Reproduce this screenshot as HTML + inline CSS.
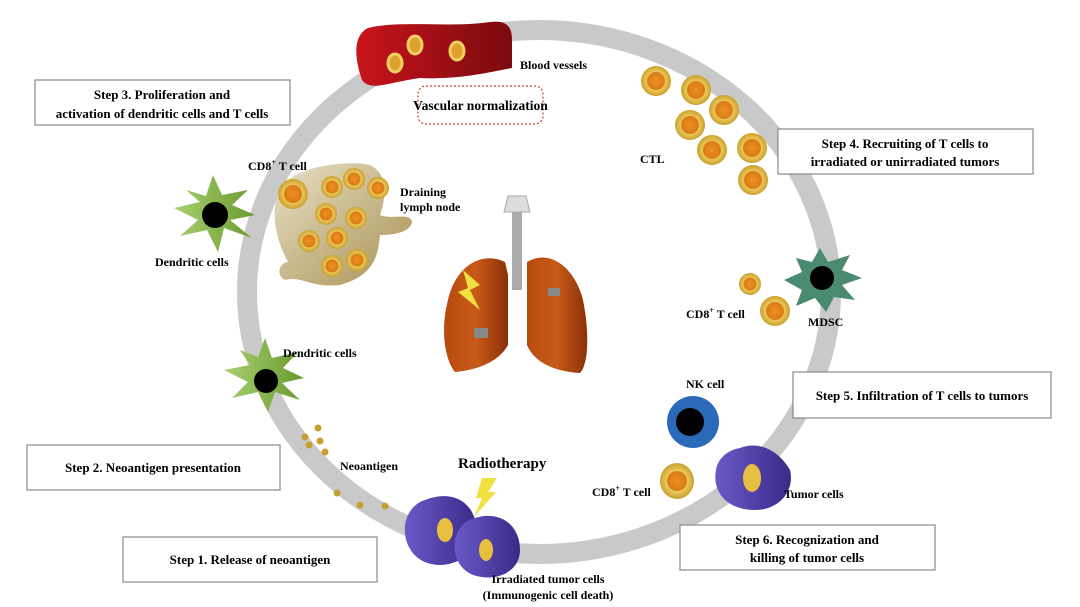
<!DOCTYPE html>
<html><head><meta charset="utf-8"><style>
html,body{margin:0;padding:0;background:#fff;}
svg{display:block;font-family:"Liberation Serif",serif;font-weight:bold;}
</style></head><body>
<svg width="1080" height="607" viewBox="0 0 1080 607" xmlns="http://www.w3.org/2000/svg">
<defs>
<radialGradient id="tc" cx="50%" cy="50%" r="50%"><stop offset="0.55" stop-color="#f0d060"/><stop offset="1" stop-color="#c9a030"/></radialGradient>
<radialGradient id="tn"><stop offset="0" stop-color="#f09020"/><stop offset="1" stop-color="#d87a18"/></radialGradient>
<linearGradient id="bv" x1="0" x2="1"><stop offset="0" stop-color="#c8141c"/><stop offset="1" stop-color="#7a0a0e"/></linearGradient>
<linearGradient id="ln" x1="0" x2="1" y1="0" y2="1"><stop offset="0" stop-color="#e8e0c8"/><stop offset="1" stop-color="#a89050"/></linearGradient>
<linearGradient id="lung" x1="0" x2="1"><stop offset="0" stop-color="#b84a10"/><stop offset="0.5" stop-color="#c85a18"/><stop offset="1" stop-color="#8a3008"/></linearGradient>
<linearGradient id="tum" x1="0" x2="1"><stop offset="0" stop-color="#6a5ac8"/><stop offset="1" stop-color="#3a2a88"/></linearGradient>
<linearGradient id="dc" x1="0" x2="1"><stop offset="0" stop-color="#a8d070"/><stop offset="1" stop-color="#6a9a30"/></linearGradient>
<g id="t"><circle r="15" fill="url(#tc)"/><circle r="9" fill="url(#tn)"/></g>
<g id="ts"><circle r="11" fill="url(#tc)"/><circle r="6.5" fill="url(#tn)"/></g>
</defs>

<!-- ring -->
<ellipse cx="539" cy="292" rx="292" ry="262" fill="none" stroke="#c9c9c9" stroke-width="20"/>

<!-- blood vessel -->
<path d="M368,28 C400,20 450,28 490,22 C505,20 512,25 512,40 L512,68 C490,72 460,80 420,78 C390,82 370,92 362,80 C355,60 352,36 368,28 Z" fill="url(#bv)"/>
<ellipse cx="395" cy="63" rx="7" ry="9" fill="#e0a030" stroke="#f0d060" stroke-width="3"/>
<ellipse cx="415" cy="45" rx="7" ry="9" fill="#e0a030" stroke="#f0d060" stroke-width="3"/>
<ellipse cx="457" cy="51" rx="7" ry="9" fill="#e0a030" stroke="#f0d060" stroke-width="3"/>
<text x="520" y="69" font-size="12">Blood vessels</text>
<rect x="418" y="86" width="125" height="38" rx="8" fill="#fff" stroke="#c04030" stroke-width="1.2" stroke-dasharray="2,2"/>
<text x="480.5" y="110" font-size="13.5" text-anchor="middle">Vascular normalization</text>

<!-- CTLs -->
<use href="#t" x="656" y="81"/><use href="#t" x="696" y="90"/><use href="#t" x="724" y="110"/>
<use href="#t" x="690" y="125"/><use href="#t" x="712" y="150"/><use href="#t" x="752" y="148"/><use href="#t" x="753" y="180"/>
<text x="640" y="163" font-size="12">CTL</text>

<!-- boxes -->
<g fill="#fff" stroke="#888" stroke-width="1.2">
<rect x="35" y="80" width="255" height="45"/>
<rect x="778" y="129" width="255" height="45"/>
<rect x="793" y="372" width="258" height="46"/>
<rect x="680" y="525" width="255" height="45"/>
<rect x="27" y="445" width="253" height="45"/>
<rect x="123" y="537" width="254" height="45"/>
</g>
<g font-size="13" text-anchor="middle">
<text x="162" y="99">Step 3. Proliferation and</text>
<text x="162" y="118">activation of dendritic cells and T cells</text>
<text x="905" y="148">Step 4. Recruiting of T cells to</text>
<text x="905" y="166">irradiated or unirradiated tumors</text>
<text x="922" y="400">Step 5. Infiltration of T cells to tumors</text>
<text x="807" y="544">Step 6. Recognization and</text>
<text x="807" y="562">killing of tumor cells</text>
<text x="153" y="472">Step 2. Neoantigen presentation</text>
<text x="250" y="564">Step 1. Release of neoantigen</text>
</g>

<!-- lymph node -->
<path d="M282,185 C300,165 350,160 370,165 C390,175 385,200 380,215 C395,220 410,212 412,222 C410,232 395,235 380,235 C378,255 375,275 340,285 C310,288 300,275 285,280 C275,275 280,262 288,262 C276,240 268,210 282,185 Z" fill="url(#ln)"/>
<use href="#t" x="293" y="194"/>
<use href="#ts" x="332" y="187"/><use href="#ts" x="354" y="179"/><use href="#ts" x="378" y="188"/>
<use href="#ts" x="326" y="214"/><use href="#ts" x="356" y="218"/>
<use href="#ts" x="309" y="241"/><use href="#ts" x="337" y="238"/>
<use href="#ts" x="332" y="266"/><use href="#ts" x="357" y="260"/>
<text x="248" y="170" font-size="12">CD8<tspan font-size="8" dy="-5">+</tspan><tspan dy="5"> T cell</tspan></text>
<text x="400" y="196" font-size="12">Draining</text>
<text x="400" y="211" font-size="12">lymph node</text>

<!-- dendritic cell 1 -->
<path d="M213,175 L222,195 L248,190 L232,205 L255,215 L230,220 L252,238 L224,228 L218,252 L207,230 L180,236 L198,220 L174,208 L200,202 L186,190 L206,196 Z" fill="url(#dc)"/>
<circle cx="215" cy="215" r="13" fill="#000"/>
<text x="155" y="266" font-size="12">Dendritic cells</text>

<!-- dendritic cell 2 -->
<path d="M265,338 L272,358 L298,352 L283,368 L304,378 L282,383 L300,400 L275,392 L268,412 L258,392 L232,398 L248,382 L224,370 L250,365 L240,350 L258,357 Z" fill="url(#dc)"/>
<circle cx="266" cy="381" r="12" fill="#000"/>
<text x="283" y="357" font-size="12">Dendritic cells</text>
<g fill="#c8a030">
<circle cx="305" cy="437" r="3.5"/><circle cx="318" cy="428" r="3.5"/><circle cx="309" cy="445" r="3.5"/><circle cx="320" cy="441" r="3.5"/><circle cx="325" cy="452" r="3.5"/>
<circle cx="337" cy="493" r="3.5"/><circle cx="360" cy="505" r="3.5"/><circle cx="385" cy="506" r="3.5"/>
</g>
<text x="340" y="470" font-size="12">Neoantigen</text>

<!-- lungs -->
<rect x="512" y="210" width="10" height="80" fill="#aaa"/>
<path d="M508,196 L526,196 L530,212 L504,212 Z" fill="#ddd" stroke="#aaa"/>
<path d="M505,262 C480,250 455,268 448,300 C440,330 445,360 455,372 C480,370 500,360 508,345 L508,275 Z" fill="url(#lung)"/>
<path d="M527,262 C550,248 575,268 583,300 C590,335 588,365 580,373 C560,372 535,365 527,345 L527,275 Z" fill="url(#lung)"/>
<polygon points="463,270 480,285 470,290 480,310 458,292 468,288" fill="#f0e040"/>
<rect x="474" y="328" width="14" height="10" fill="#888"/>
<rect x="548" y="288" width="12" height="8" fill="#888"/>

<!-- MDSC -->
<path d="M820,248 L828,262 L850,255 L842,270 L862,278 L842,285 L855,300 L834,297 L826,312 L815,298 L796,306 L802,290 L784,280 L802,272 L796,258 L812,262 Z" fill="#4a8a70"/>
<circle cx="822" cy="278" r="12" fill="#000"/>
<use href="#ts" x="750" y="284"/><use href="#t" x="775" y="311"/>
<text x="686" y="318" font-size="12">CD8<tspan font-size="8" dy="-5">+</tspan><tspan dy="5"> T cell</tspan></text>
<text x="808" y="326" font-size="12">MDSC</text>

<!-- NK cell -->
<circle cx="693" cy="422" r="26" fill="#2a6ab8"/>
<circle cx="690" cy="422" r="14" fill="#000"/>
<text x="686" y="388" font-size="12">NK cell</text>
<ellipse cx="677" cy="481" rx="17" ry="18" fill="url(#tc)"/><circle cx="677" cy="481" r="10" fill="url(#tn)"/>
<text x="592" y="496" font-size="12">CD8<tspan font-size="8" dy="-5">+</tspan><tspan dy="5"> T cell</tspan></text>
<path d="M740,448 C760,440 780,452 790,470 C795,490 780,510 755,510 C725,510 712,490 716,470 C718,458 728,450 740,448 Z" fill="url(#tum)"/>
<ellipse cx="752" cy="478" rx="9" ry="14" fill="#e8c040"/>
<text x="784" y="498" font-size="12">Tumor cells</text>

<!-- irradiated tumor cells -->
<path d="M425,500 C450,490 470,500 475,520 C480,545 465,565 440,565 C415,565 403,545 405,525 C407,512 415,503 425,500 Z" fill="url(#tum)"/>
<ellipse cx="445" cy="530" rx="8" ry="12" fill="#e8c040"/>
<path d="M475,518 C500,510 520,525 520,550 C520,570 500,580 482,577 C462,575 452,558 455,540 C458,528 465,520 475,518 Z" fill="url(#tum)"/>
<ellipse cx="486" cy="550" rx="7" ry="11" fill="#e8c040"/>
<polygon points="482,478 497,478 488,492 496,492 474,517 482,498 476,498" fill="#f0e040"/>
<text x="458" y="468" font-size="15">Radiotherapy</text>
<text x="548" y="583" font-size="12" text-anchor="middle">Irradiated tumor cells</text>
<text x="548" y="599" font-size="12" text-anchor="middle">(Immunogenic cell death)</text>
</svg>
</body></html>
